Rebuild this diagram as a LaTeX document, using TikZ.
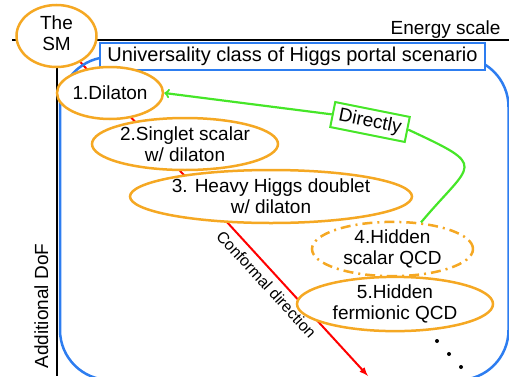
\documentclass[tikz,border=0pt]{standalone}
\usepackage{fontspec}
\setmainfont{Liberation Sans}
\usetikzlibrary{shapes.geometric,backgrounds}
\definecolor{classorange}{RGB}{245,168,35}
\definecolor{portalblue}{RGB}{45,125,240}
\definecolor{directgreen}{RGB}{70,230,40}
\newcommand{\bigfont}{\fontsize{19bp}{21bp}\selectfont}
\newcommand{\smallfont}{\fontsize{16bp}{18bp}\selectfont}

\begin{document}
\begin{tikzpicture}[x=1bp,y=1bp]
  \tikzstyle{every node}=[font=\bigfont]
  \tikzstyle{axis}=[line width=2bp]
  \tikzstyle{portal}=[draw=portalblue,line width=2.5bp,rounded corners=50bp]
  \tikzstyle{classbox}=[draw=portalblue,fill=white,line width=2.5bp,minimum width=385bp,minimum height=27bp,inner sep=0pt,font=\fontsize{20bp}{22bp}\selectfont]
  \tikzstyle{scenario}=[draw=classorange,fill=white,ellipse,line width=2.5bp,inner sep=0pt,align=center]
  \tikzstyle{directbox}=[draw=directgreen,fill=white,line width=2bp,rotate=-11.3,minimum width=76bp,minimum height=25.5bp,inner sep=0pt]
  \tikzstyle{directline}=[draw=directgreen,line width=2.2bp]
  \tikzstyle{conformal}=[draw=red,line width=2bp,-latex]

  \useasboundingbox (0,0) rectangle (509,376);

  % axes
  \coordinate (E0) at (12,336);
  \coordinate (E1) at (509,336);
  \coordinate (D0) at (57,364);
  \coordinate (D1) at (57,0);
  \draw[axis] (E0) -- (E1);
  \draw[axis] (D0) -- (D1);
  \node (energy) at (504,342) [anchor=base east] {Energy scale};
  \node (dof) at (48,70) [anchor=base,rotate=90] {Additional DoF};

  % universality class
  \draw[portal] (60,319) rectangle (508.5,-4);

  \node (SM) at (56.5,340) [scenario,minimum width=80bp,minimum height=62bp] {\raisebox{-5bp}{\begin{tabular}{@{}c@{}}The\\SM\end{tabular}}};
  \node (universal) at (292.5,319.5) [classbox] {Universality class of Higgs portal scenario};
  \node (dilaton) at (110,283) [scenario,minimum width=94bp,minimum height=52bp] {1.Dilaton};
  \node (singlet) at (185,232) [scenario,minimum width=186bp,minimum height=52bp] {2.Singlet scalar\\w/ dilaton};
  \node (heavy) at (271,179.5) [scenario,minimum width=282bp,minimum height=53bp] {3. Heavy Higgs doublet\\w/ dilaton};
  \node (hscalar) at (392.5,127) [scenario,dash pattern=on 10bp off 5bp on 2bp off 5bp,minimum width=161bp,minimum height=52bp] {4.Hidden\\scalar QCD};
  \node (hfermion) at (395,72) [scenario,minimum width=196bp,minimum height=52bp] {5.Hidden\\fermionic QCD};
  \foreach \x/\y in {437/35,449/22,461/9}
    \fill (\x,\y) circle (2bp);

  \node (directly) at (370,254) [directbox] {Directly};
  \draw[directline] (hscalar.43) .. controls +(50:80) and +(-25:90) .. (directly.east);
  \draw[directline,->] (directly.west) -- (dilaton.east);

  \coordinate (tip) at (368,0);
  \begin{scope}[on background layer]
    \draw[conformal] (SM) -- node (cdir) [sloped,below=5bp,pos=0.68,inner sep=1bp,font=\smallfont] {Conformal direction} (tip);
  \end{scope}
\end{tikzpicture}
\end{document}
